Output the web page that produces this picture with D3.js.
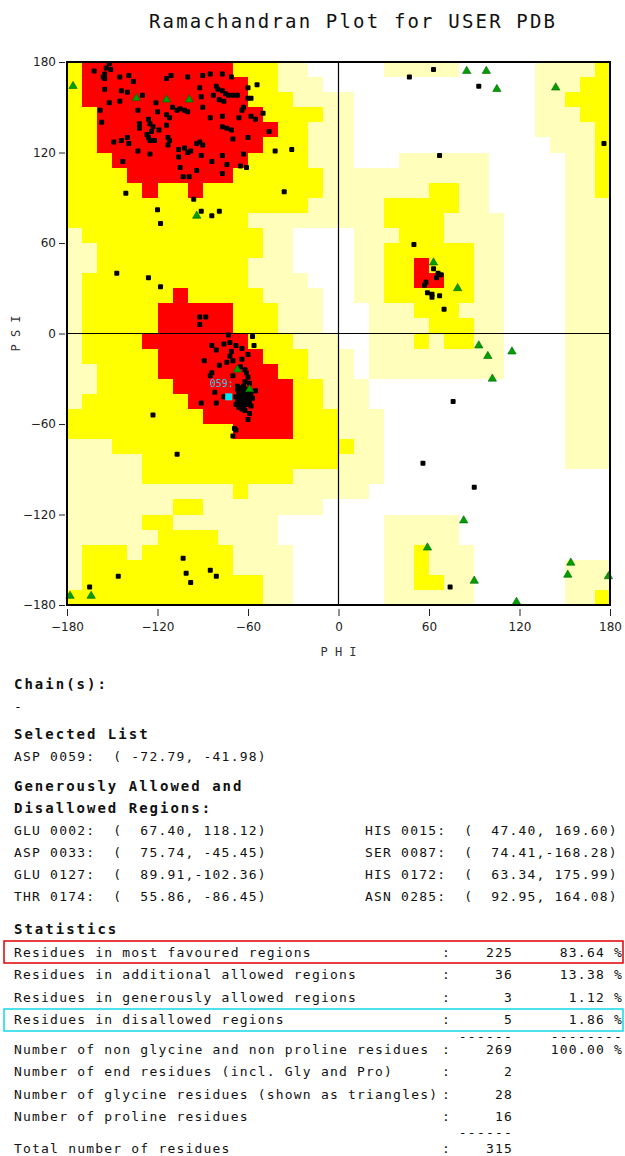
<!DOCTYPE html>
<html><head><meta charset="utf-8">
<script src="https://cdn.jsdelivr.net/npm/d3@7"></script>
<style>
body{margin:0;background:#fff;}
svg text{font-family:"DejaVu Sans Mono",monospace;fill:#111;}
</style></head><body>
<svg id="c" width="625" height="1156"></svg>
<script>
// ---------- DATA ----------
const titleText = "Ramachandran Plot for USER PDB";
const tickValues = [-180, -120, -60, 0, 60, 120, 180];
const xLabel = "P H I";
const yLabel = "P S I";
// region map: rows psi 180..-180 (10 deg), cols phi -180..180; 0 white,1 generous,2 allowed,3 core
const regionRows = [
"233333333332221100"+"000111110000011112",
"233333333333221110"+"000000000000011122",
"233333333333222111"+"100000000000011222",
"223333333333322221"+"100000000000011122",
"223333333333332211"+"100000000000011112",
"223333333333322211"+"100000000000001112",
"222333333333222211"+"100011111100000112",
"222233333332222221"+"111111111100000112",
"222223223222222221"+"111111221100000112",
"222222222222222211"+"111222221100000111",
"222222222222111111"+"111222211110000111",
"122222222222211000"+"011122211110000111",
"112222222222211000"+"011222222110000111",
"112222222222111000"+"011223222110000111",
"122222222222111100"+"011223322110000111",
"122222232222211110"+"011222222110000111",
"122222333332221110"+"001112221110000111",
"122222333332221110"+"001111222110000111",
"122223333333222111"+"001112122110000111",
"122222333333322211"+"101111111110000111",
"112222333333332211"+"101111111110000111",
"112222233333333221"+"110000000000000111",
"122222223333333221"+"110000000000000111",
"222222222333333222"+"111000000000000111",
"222222222223333222"+"111000000000000111",
"111222222222222222"+"211000000000000111",
"111112222222222222"+"111000000000000111",
"111112222222222111"+"111000000000000000",
"111111111112111111"+"110000000000000000",
"111111122111111110"+"000000000000000000",
"111112211111110000"+"000111110000000000",
"111111222211110000"+"000111110000000000",
"122212222221111000"+"000112111000000000",
"122222222221111000"+"000112111000000111",
"122222222222211000"+"000112211000000111",
"222222222222211000"+"000111111000000112"
];
const regionColors = ["#ffffff", "#ffffbb", "#ffff00", "#ff0000"];

// non-glycine residues [phi, psi]
const residuePoints = [
[-152,179],[-154,176],[-151,175],[-155,172],[-156,170],[-155,169],[-162,174],[-145,170],[-139,171],[-136,167],
[-114,169],[-111,171],[-100,170],[-90,171],[-85,172],[-77,172],[-71,170],[-155,162],[-144,161],[-140,160],
[-92,163],[-91,157],[-81,164],[-80,162],[-77,161],[-75,159],[-73,158],[-70,158],[-67,158],[-60,163],
[-60,156],[-58,156],[-54,165],[-130,158],[-152,153],[-145,154],[-121,153],[-90,150],[-83,158],[-79,155],
[-76,154],[-110,150],[-107,148],[-105,149],[-102,148],[-100,147],[-158,148],[-133,148],[-120,147],[-114,145],
[-112,143],[-85,143],[-77,144],[-66,143],[-64,148],[-63,150],[-58,144],[-55,142],[-50,146],[-157,140],
[-132,139],[-132,136],[-126,142],[-125,139],[-123,137],[-124,134],[-119,135],[-114,138],[-77,137],[-74,136],
[-71,135],[-70,129],[-60,130],[-46,134],[-149,127],[-144,128],[-140,130],[-139,126],[-127,132],[-126,130],
[-125,128],[-122,128],[-113,130],[-113,125],[-112,128],[-94,126],[-92,127],[-90,125],[-133,121],[-125,119],
[-106,122],[-102,123],[-100,120],[-98,121],[-106,117],[-91,118],[-84,114],[-77,118],[-74,112],[-63,119],
[-65,111],[-61,110],[-42,121],[-31,122],[-143,114],[-105,110],[-94,108],[-103,104],[-99,104],[-77,106],
[-36,94],[-141,93],[-96,89],[-120,82],[-118,73],[-91,81],[-84,78],[-79,81],[-147,40],[-126,37],
[-118,31],[-92,11],[-88,11],[-92,6],
[63,175],[47,170],[93,164],[176,126],[67,118],[50,59],[63,43],[66,40],[68,39],[65,37],
[58,34],[57,32],[59,27],[62,26],[62,24],[67,25],[70,16],
[-73,-1],[-57,-2],[-56,-8],[-84,-8],[-81,-11],[-76,-7],[-72,-6],[-68,-8],[-71,-12],[-64,-10],
[-72,-15],[-70,-18],[-74,-19],[-79,-21],[-89,-18],[-60,-14],[-64,-17],[-65,-22],[-62,-24],[-84,-26],
[-85,-28],[-70,-28],[-61,-26],[-60,-29],[-59,-33],[-62,-32],[-55,-38],[-82,-39],[-81,-46],[-91,-46],
[-76,-42],[-67,-35],[-65,-36],[-63,-35],[-61,-37],[-66,-38],[-64,-39],[-62,-40],[-60,-42],[-68,-42],
[-65,-43],[-63,-44],[-61,-44],[-66,-45],[-64,-46],[-62,-46],[-65,-48],[-63,-49],[-68,-47],[-58,-40],
[-59,-45],[-58,-48],[-59,-53],[-60,-57],[-69,-63],[-68,-64],[-70,-68],[-62,-38],[-64,-41],[-66,-40],
[-60,-39],[-63,-42],[-61,-47],[-67,-44],[-64,-50],[-62,-51],[-57,-43],[-60,-45],[-66,-49],[-67,-37],
[-123,-54],[-107,-80],[-103,-149],[-101,-159],[-98,-165],[-85,-157],[-81,-161],[-146,-161],[-165,-168],
[76,-45],[56,-86],[90,-102],[74,-168]
];
// glycine residues (triangles)
const glycinePoints = [
[-176,164],[-134,156],[-114,155],[-99,155],[-94,78],
[85,174],[98,174],[105,162],[144,163],[63,47],[79,30],
[-67,-24],[-59,-37],[-164,-174],[-178,-174],
[93,-8],[99,-15],[115,-12],[102,-30],[83,-124],[59,-142],[90,-164],[118,-178],[154,-152],[152,-160],[179,-161]
];
const selectedResidue = {name: "ASP 0059", label: "059:", phi: -72.79, psi: -41.98};

const chainHeader = "Chain(s):";
const chainValue = "-";
const selectedHeader = "Selected List";
const selectedLine = "ASP 0059:  ( -72.79, -41.98)";
const genHeader = ["Generously Allowed and", "Disallowed Regions:"];
const genLeft = ["GLU 0002:  (  67.40, 118.12)", "ASP 0033:  (  75.74, -45.45)", "GLU 0127:  (  89.91,-102.36)", "THR 0174:  (  55.86, -86.45)"];
const genRight = ["HIS 0015:  (  47.40, 169.60)", "SER 0087:  (  74.41,-168.28)", "HIS 0172:  (  63.34, 175.99)", "ASN 0285:  (  92.95, 164.08)"];
const statsHeader = "Statistics";
const statLabels = ["Residues in most favoured regions", "Residues in additional allowed regions", "Residues in generously allowed regions", "Residues in disallowed regions",
  "Number of non glycine and non proline residues", "Number of end residues (incl. Gly and Pro)", "Number of glycine residues (shown as triangles)", "Number of proline residues", "Total number of residues"];
const statCounts = ["225", "36", "3", "5", "269", "2", "28", "16", "315"];
const statPercents = ["83.64 %", "13.38 %", "1.12 %", "1.86 %", "100.00 %", "", "", "", ""];

// ---------- DRAW ----------
const svg = d3.select("#c");
const x = d3.scaleLinear().domain([-180, 180]).range([67, 610]);
const y = d3.scaleLinear().domain([-180, 180]).range([605, 62]);

svg.append("text").attr("x", 352).attr("y", 28).attr("text-anchor", "middle")
  .attr("textLength", 406).attr("lengthAdjust", "spacing")
  .style("font-size", "19px").text(titleText);

// region cells
const cells = [];
regionRows.forEach((row, j) => {
  for (let i = 0; i < row.length; i++) cells.push({phi: -180 + 10 * i, psi: 180 - 10 * j, v: +row[i]});
});
svg.append("g").selectAll("rect").data(cells).join("rect")
  .attr("x", d => x(d.phi)).attr("y", d => y(d.psi))
  .attr("width", d => x(d.phi + 10) - x(d.phi)).attr("height", d => y(d.psi - 10) - y(d.psi))
  .attr("fill", d => regionColors[d.v]).attr("shape-rendering", "crispEdges");

// zero lines
svg.append("line").attr("x1", x(0)).attr("x2", x(0)).attr("y1", y(180)).attr("y2", y(-180)).attr("stroke", "#000").attr("stroke-width", 1.2);
svg.append("line").attr("x1", x(-180)).attr("x2", x(180)).attr("y1", y(0)).attr("y2", y(0)).attr("stroke", "#000").attr("stroke-width", 1.2);

// points
svg.append("g").selectAll("rect").data(residuePoints).join("rect")
  .attr("x", d => x(d[0]) - 2.5).attr("y", d => y(d[1]) - 2.5)
  .attr("width", 5).attr("height", 5).attr("rx", 1).attr("fill", "#000");
const tri = d3.symbol().type(d3.symbolTriangle).size(30);
svg.append("g").selectAll("path").data(glycinePoints).join("path")
  .attr("transform", d => `translate(${x(d[0])},${y(d[1])})`)
  .attr("d", tri).attr("fill", "#00a000").attr("stroke", "#006000").attr("stroke-width", 0.6);
svg.append("rect").attr("x", x(selectedResidue.phi) - 3.5).attr("y", y(selectedResidue.psi) - 3.5)
  .attr("width", 7).attr("height", 7).attr("fill", "#00e8f8");
svg.append("text").attr("x", x(selectedResidue.phi) - 19).attr("y", y(selectedResidue.psi) - 10)
  .style("font-size", "10px").style("fill", "#20c8e0").text(selectedResidue.label);

// frame
svg.append("rect").attr("x", x(-180)).attr("y", y(180)).attr("width", x(180) - x(-180)).attr("height", y(-180) - y(180))
  .attr("fill", "none").attr("stroke", "#000").attr("stroke-width", 2);

// axes
const axL = svg.append("g").attr("transform", "translate(65,0)")
  .call(d3.axisLeft(y).tickValues(tickValues).tickSize(6).tickPadding(3));
const axB = svg.append("g").attr("transform", "translate(0,609)")
  .call(d3.axisBottom(x).tickValues(tickValues).tickSize(7).tickPadding(6));
[axL, axB].forEach(a => {
  a.select(".domain").remove();
  a.selectAll("text").style("font-family", "'DejaVu Sans',sans-serif").style("font-size", "12px").style("fill", "#222");
  a.selectAll("line").attr("stroke", "#222");
});
svg.append("text").attr("x", x(0)).attr("y", 656).attr("text-anchor", "middle").style("font-size", "12px").style("fill", "#333").text(xLabel);
svg.append("text").attr("transform", `translate(20,${y(0)}) rotate(-90)`).attr("text-anchor", "middle").style("font-size", "12px").style("fill", "#333").text(yLabel);

// ---------- TEXT REPORT ----------
const bold = (t, xx, yy) => svg.append("text").attr("x", xx).attr("y", yy).attr("xml:space", "preserve")
  .style("font-size", "14px").style("font-weight", "bold").style("letter-spacing", "2px").text(t);
const reg = (t, xx, yy, anchor) => svg.append("text").attr("x", xx).attr("y", yy).attr("xml:space", "preserve")
  .attr("text-anchor", anchor || "start")
  .style("font-size", "13px").style("letter-spacing", "1.2px").style("white-space", "pre").text(t);

bold(chainHeader, 14, 689);
reg(chainValue, 14, 711);
bold(selectedHeader, 14, 739);
reg(selectedLine, 14, 761);
bold(genHeader[0], 14, 791);
bold(genHeader[1], 14, 813);
const genY = [835, 857, 879, 901];
genLeft.forEach((t, k) => reg(t, 14, genY[k]));
genRight.forEach((t, k) => reg(t, 365, genY[k]));
bold(statsHeader, 14, 934);
const statY = [957, 979, 1002, 1024, 1054, 1076, 1099, 1121, 1153];
statLabels.forEach((t, k) => {
  reg(t, 14, statY[k]);
  reg(":", 442, statY[k]);
  reg(statCounts[k], 513, statY[k], "end");
  if (statPercents[k]) reg(statPercents[k], 623, statY[k], "end");
});
reg("------", 513, 1041, "end");
reg("--------", 623, 1041, "end");
reg("------", 513, 1137, "end");

svg.append("rect").attr("x", 4).attr("y", 941).attr("width", 619).attr("height", 22)
  .attr("fill", "none").attr("stroke", "#e00000").attr("stroke-width", 1.5);
svg.append("rect").attr("x", 4).attr("y", 1009).attr("width", 619).attr("height", 22)
  .attr("fill", "none").attr("stroke", "#10d8e8").attr("stroke-width", 1.5);
</script>
</body></html>
